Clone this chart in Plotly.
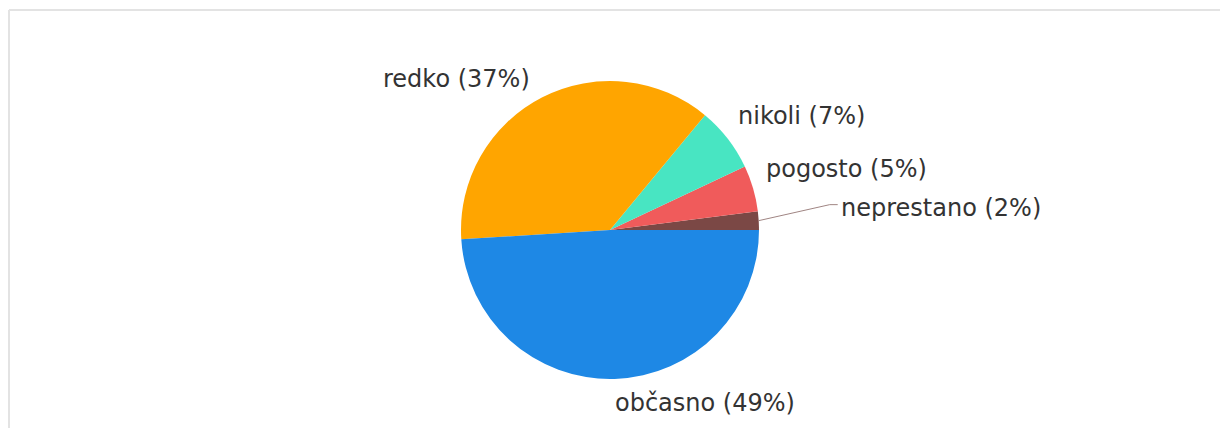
import math
import plotly.graph_objects as go

labels = ["neprestano", "pogosto", "nikoli", "redko", "občasno"]
values = [2, 5, 7, 37, 49]
colors = ["#7B4845", "#F05B5B", "#48E5C2", "#FFA500", "#1E88E5"]

W, H = 1228, 428
OFF = 8                      # page body margin
cx, cy, r = 610 - OFF, 230 - OFF, 149   # pie centre / radius in figure px
FONT = dict(family="DejaVu Sans", size=24, color="#333333")
GAP = 11                     # label distance from rim
LEFT_DX, LEFT_DY = -5, 8     # extra shift for labels on the left side
LOWER_DX, LOWER_DY = -2, -3  # extra shift for labels below the centre
LEAD_DX, LEAD_DY, LEAD_H = 71, 16, 8   # leader line for tiny slices

total = sum(values)


def px(x):
    return x / W


def py(y):
    return 1 - y / H


# plotly (counterclockwise) ends the first slice at `rotation`; start it at 3 o'clock
rotation = 90 - 360 * values[0] / total

fig = go.Figure(go.Pie(
    labels=labels, values=values, sort=False, direction="counterclockwise",
    rotation=rotation, marker=dict(colors=colors, line=dict(width=0)),
    textinfo="none", automargin=False, showlegend=False,
    hoverinfo="label+percent",
    domain=dict(x=[px(cx - r), px(cx + r)], y=[py(cy + r), py(cy - r)]),
))

annotations, shapes = [], []
cum = 0
for lab, v, col in zip(labels, values, colors):
    frac = v / total
    mid = 2 * math.pi * (cum + frac / 2)
    cum += frac
    c, s = math.cos(mid), math.sin(mid)
    text = f"{lab} ({round(frac * 100)}%)"
    ex, ey = cx + r * c, cy - r * s
    if frac < 0.03:
        kx, ky = ex + LEAD_DX, ey - LEAD_DY
        hx = kx + LEAD_H
        shapes.append(dict(type="path", xref="paper", yref="paper",
                           path=f"M {px(ex)},{py(ey)} L {px(kx)},{py(ky)} L {px(hx)},{py(ky)}",
                           line=dict(color="#a08583", width=1)))
        annotations.append(dict(x=px(hx + 1), y=py(ky + 3), xref="paper", yref="paper",
                                text=text, showarrow=False, xanchor="left", yanchor="middle",
                                font=FONT))
        continue
    lx, ly = cx + (r + GAP) * c, cy - (r + GAP) * s
    xa = "left" if c >= 0 else "right"
    if c < 0:
        lx += LEFT_DX
        ly += LEFT_DY
    ya = "bottom" if s > 0 else "top"
    if s < 0:
        lx += LOWER_DX
        ly += LOWER_DY
    annotations.append(dict(x=px(lx), y=py(ly), xref="paper", yref="paper",
                            text=text, showarrow=False, xanchor=xa, yanchor=ya,
                            font=FONT))

frame = "#e3e3e3"
shapes += [
    dict(type="line", xref="paper", yref="paper", x0=px(1), x1=1, y0=py(2), y1=py(2),
         line=dict(color=frame, width=2)),
    dict(type="line", xref="paper", yref="paper", x0=px(1), x1=px(1), y0=0, y1=py(2),
         line=dict(color=frame, width=2)),
]

fig.update_layout(
    width=W, height=H, margin=dict(l=0, r=0, t=0, b=0, autoexpand=False),
    paper_bgcolor="white", plot_bgcolor="white",
    annotations=annotations, shapes=shapes,
)
fig.write_html("out.html")
